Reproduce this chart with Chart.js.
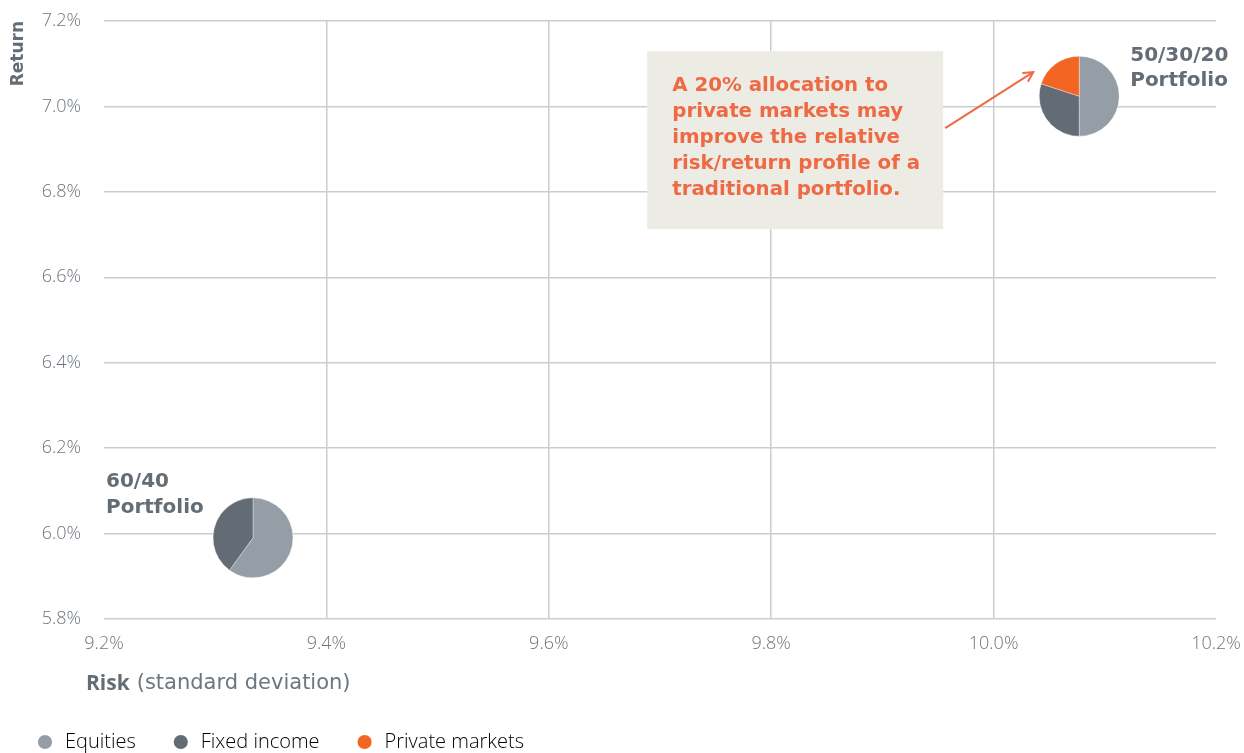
<!DOCTYPE html>
<html>
<head>
<meta charset="utf-8">
<script src="https://cdn.jsdelivr.net/npm/chart.js@4/dist/chart.umd.min.js"></script>
<style>
  html, body { margin: 0; padding: 0; background: #fff; }
  #wrap { width: 1244px; height: 753px; position: relative; }
</style>
</head>
<body>
<div id="wrap"><canvas id="riskChart"></canvas></div>
<script>
// 数据
const portfolioNames = ['60/40', '50/30/20'];
const riskValues = [9.334, 10.077];    // 标准差 %
const returnValues = [5.99, 7.024];    // 收益 %
const assetClasses = ['Equities', 'Fixed income', 'Private markets'];
const allocations = [
    [60, 40, 0],
    [50, 30, 20]
];
const xTickValues = [9.2, 9.4, 9.6, 9.8, 10.0, 10.2];
const yTickValues = [5.8, 6.0, 6.2, 6.4, 6.6, 6.8, 7.0, 7.2];
const calloutLines = [
    'A 20% allocation to',
    'private markets may',
    'improve the relative',
    'risk/return profile of a',
    'traditional portfolio.'
];

// 样式
const sliceColors = ['#959ea6', '#636c74', '#f26522'];
const textGrey = '#646d75';
const tickGrey = '#6d757d';
const gridGrey = '#c9cdd3';
const calloutOrange = '#ee6a45';
const boldFont = '"DejaVu Sans", sans-serif';
const bookFont = '"Open Sans", Roboto, sans-serif';

// 饼图 + 标注插件
const piePlugin = {
    id: 'piePlugin',
    afterDatasetsDraw(chart) {
        const ctx = chart.ctx;
        const meta = chart.getDatasetMeta(0);
        const r = 40;

        meta.data.forEach((pt, i) => {
            const cx = pt.x, cy = pt.y;
            const total = allocations[i].reduce((a, b) => a + b, 0);
            let start = -Math.PI / 2;
            allocations[i].forEach((v, k) => {
                if (!v) return;
                const end = start + v / total * Math.PI * 2;
                ctx.save();
                ctx.beginPath();
                ctx.moveTo(cx, cy);
                ctx.arc(cx, cy, r, start, end);
                ctx.closePath();
                ctx.fillStyle = sliceColors[k];
                ctx.fill();
                ctx.strokeStyle = 'rgba(255,255,255,0.6)';
                ctx.lineWidth = 0.6;
                ctx.stroke();
                ctx.restore();
                start = end;
            });

            // 组合名称
            ctx.save();
            ctx.fillStyle = textGrey;
            ctx.font = 'bold 20px ' + boldFont;
            ctx.textBaseline = 'middle';
            ctx.textAlign = 'left';
            if (i === 0) {
                ctx.fillText(portfolioNames[i], cx - 147, cy - 56);
                ctx.fillText('Portfolio', cx - 147, cy - 30);
            } else {
                ctx.fillText(portfolioNames[i], cx + 51, cy - 40);
                ctx.fillText('Portfolio', cx + 51, cy - 15);
            }
            ctx.restore();
        });

        // 说明框
        const p = meta.data[1];
        const bx = p.x - 432, by = p.y - 45, bw = 296, bh = 178;
        ctx.save();
        ctx.fillStyle = '#edece4';
        ctx.fillRect(bx, by, bw, bh);
        ctx.fillStyle = calloutOrange;
        ctx.font = 'bold 19.8px ' + boldFont;
        ctx.textBaseline = 'middle';
        calloutLines.forEach((line, j) => {
            ctx.fillText(line, bx + 25, by + 35 + j * 26);
        });

        // 箭头
        const x0 = p.x - 134, y0 = p.y + 32, x1 = p.x - 46, y1 = p.y - 24;
        ctx.strokeStyle = calloutOrange;
        ctx.lineWidth = 2;
        ctx.beginPath();
        ctx.moveTo(x0, y0);
        ctx.lineTo(x1, y1);
        ctx.stroke();
        const ang = Math.atan2(y1 - y0, x1 - x0);
        ctx.beginPath();
        ctx.moveTo(x1 - 11 * Math.cos(ang - 0.5), y1 - 11 * Math.sin(ang - 0.5));
        ctx.lineTo(x1, y1);
        ctx.lineTo(x1 - 11 * Math.cos(ang + 0.5), y1 - 11 * Math.sin(ang + 0.5));
        ctx.stroke();
        ctx.restore();

        // X轴标题
        const xs = chart.scales.x;
        ctx.save();
        ctx.fillStyle = textGrey;
        ctx.textBaseline = 'middle';
        ctx.font = 'bold 21px ' + bookFont;
        const tx = xs.left - 18, ty = 684;
        ctx.fillText('Risk', tx, ty);
        const w = ctx.measureText('Risk').width;
        ctx.fillStyle = tickGrey;
        ctx.font = '21px ' + boldFont;
        ctx.fillText('(standard deviation)', tx + w + 7, ty);
        ctx.restore();
    }
};

const ctx = document.getElementById('riskChart').getContext('2d');

new Chart(ctx, {
    type: 'scatter',
    data: {
        datasets: [{
            label: 'Portfolios',
            data: riskValues.map((x, i) => ({ x: x, y: returnValues[i] })),
            pointRadius: 0,
            pointHoverRadius: 0
        }]
    },
    options: {
        responsive: true,
        maintainAspectRatio: false,
        animation: false,
        layout: { padding: { top: 0, right: 0, left: 0, bottom: -9 } },
        scales: {
            x: {
                type: 'linear',
                min: 9.2,
                max: 10.2,
                afterBuildTicks(scale) {
                    scale.ticks = xTickValues.map(v => ({ value: v }));
                },
                afterFit(scale) {
                    scale.height = 78;
                    scale.paddingLeft = 0;
                    scale.paddingRight = 28;
                },
                border: { display: false },
                grid: {
                    drawTicks: false,
                    color: c => (c.index === 0 || c.index === xTickValues.length - 1) ? 'rgba(0,0,0,0)' : gridGrey,
                    lineWidth: 1.5
                },
                ticks: {
                    padding: 14,
                    color: tickGrey,
                    font: { family: bookFont, size: 18, weight: '300' },
                    callback: v => v.toFixed(1) + '%'
                }
            },
            y: {
                type: 'linear',
                min: 5.8,
                max: 7.2,
                afterBuildTicks(scale) {
                    scale.ticks = yTickValues.map(v => ({ value: v }));
                },
                afterFit(scale) {
                    scale.width = 104;
                    scale.paddingTop = 21;
                    scale.paddingBottom = 0;
                },
                border: { display: false },
                grid: {
                    drawTicks: false,
                    color: gridGrey,
                    lineWidth: 1.5
                },
                ticks: {
                    padding: 23,
                    color: tickGrey,
                    font: { family: bookFont, size: 18, weight: '300' },
                    callback: v => v.toFixed(1) + '%'
                },
                title: {
                    display: true,
                    text: 'Return',
                    align: 'end',
                    color: textGrey,
                    font: { family: boldFont, size: 17, weight: 'bold' },
                    padding: { top: 8, bottom: 0 }
                }
            }
        },
        plugins: {
            legend: {
                position: 'bottom',
                align: 'start',
                onClick: null,
                labels: {
                    usePointStyle: true,
                    boxWidth: 20,
                    boxHeight: 10,
                    padding: 35,
                    color: tickGrey,
                    font: { family: bookFont, size: 20, weight: '300' },
                    generateLabels: () => assetClasses.map((name, i) => ({
                        text: name,
                        fillStyle: sliceColors[i],
                        strokeStyle: sliceColors[i],
                        lineWidth: 0,
                        pointStyle: 'circle',
                        hidden: false,
                        datasetIndex: 0
                    }))
                }
            },
            tooltip: { enabled: false }
        }
    },
    plugins: [piePlugin]
});
</script>
</body>
</html>
